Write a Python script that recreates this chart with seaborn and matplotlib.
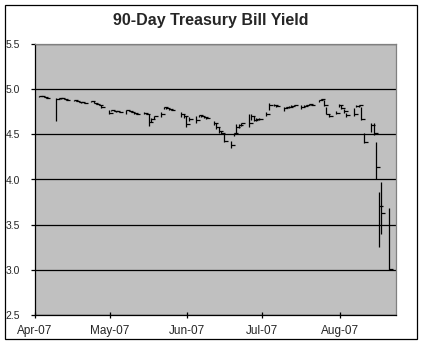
import pandas as pd
import seaborn as sns
import matplotlib
matplotlib.use('Agg')
import matplotlib.pyplot as plt
import matplotlib.dates as mdates
from matplotlib.patches import Rectangle

# Daily yields (high / low / close, percent)
dates = [
    '2007-04-02', '2007-04-03', '2007-04-04', '2007-04-05',
    '2007-04-09', '2007-04-10', '2007-04-11', '2007-04-12', '2007-04-13',
    '2007-04-16', '2007-04-17', '2007-04-18', '2007-04-19', '2007-04-20',
    '2007-04-23', '2007-04-24', '2007-04-25', '2007-04-26', '2007-04-27',
    '2007-04-30', '2007-05-01', '2007-05-02', '2007-05-03', '2007-05-04',
    '2007-05-07', '2007-05-08', '2007-05-09', '2007-05-10', '2007-05-11',
    '2007-05-14', '2007-05-15', '2007-05-16', '2007-05-17', '2007-05-18',
    '2007-05-21', '2007-05-22', '2007-05-23', '2007-05-24', '2007-05-25',
    '2007-05-29', '2007-05-30', '2007-05-31', '2007-06-01',
    '2007-06-04', '2007-06-05', '2007-06-06', '2007-06-07', '2007-06-08',
    '2007-06-11', '2007-06-12', '2007-06-13', '2007-06-14', '2007-06-15',
    '2007-06-18', '2007-06-19', '2007-06-20', '2007-06-21', '2007-06-22',
    '2007-06-25', '2007-06-26', '2007-06-27', '2007-06-28', '2007-06-29',
    '2007-07-02', '2007-07-03', '2007-07-05', '2007-07-06',
    '2007-07-09', '2007-07-10', '2007-07-11', '2007-07-12', '2007-07-13',
    '2007-07-16', '2007-07-17', '2007-07-18', '2007-07-19', '2007-07-20',
    '2007-07-23', '2007-07-24', '2007-07-25', '2007-07-26', '2007-07-27',
    '2007-07-30', '2007-07-31', '2007-08-01', '2007-08-02', '2007-08-03',
    '2007-08-06', '2007-08-07', '2007-08-08', '2007-08-09', '2007-08-10',
    '2007-08-13', '2007-08-14', '2007-08-15', '2007-08-16', '2007-08-17',
    '2007-08-20',
]

high = [
    4.92, 4.92, 4.92, 4.91,
    4.90, 4.90, 4.90, 4.90, 4.89,
    4.88, 4.88, 4.87, 4.86, 4.86,
    4.87, 4.87, 4.85, 4.84, 4.83,
    4.77, 4.77, 4.77, 4.76, 4.76,
    4.77, 4.77, 4.76, 4.75, 4.74,
    4.75, 4.74, 4.72, 4.68, 4.70,
    4.75, 4.80, 4.80, 4.79, 4.78,
    4.75, 4.73, 4.70, 4.69,
    4.70, 4.71, 4.71, 4.70, 4.69,
    4.65, 4.63, 4.58, 4.54, 4.50,
    4.43, 4.52, 4.61, 4.61, 4.63,
    4.73, 4.73, 4.70, 4.68, 4.68,
    4.75, 4.85, 4.84, 4.83,
    4.80, 4.80, 4.81, 4.82, 4.83,
    4.82, 4.82, 4.83, 4.84, 4.84,
    4.88, 4.89, 4.88, 4.80, 4.73,
    4.76, 4.84, 4.82, 4.78, 4.74,
    4.79, 4.83, 4.83, 4.80, 4.52,
    4.63, 4.62, 4.41, 3.86, 3.97,
    3.69,
]

low = [
    4.91, 4.92, 4.91, 4.90,
    4.65, 4.89, 4.89, 4.89, 4.88,
    4.87, 4.87, 4.86, 4.85, 4.85,
    4.86, 4.85, 4.84, 4.82, 4.79,
    4.72, 4.76, 4.76, 4.75, 4.75,
    4.73, 4.76, 4.75, 4.73, 4.72,
    4.73, 4.72, 4.59, 4.64, 4.67,
    4.69, 4.78, 4.78, 4.77, 4.77,
    4.69, 4.68, 4.58, 4.65,
    4.63, 4.69, 4.69, 4.68, 4.67,
    4.60, 4.56, 4.52, 4.50, 4.41,
    4.35, 4.48, 4.52, 4.57, 4.59,
    4.58, 4.66, 4.65, 4.65, 4.66,
    4.70, 4.77, 4.81, 4.80,
    4.76, 4.79, 4.79, 4.80, 4.81,
    4.78, 4.80, 4.81, 4.82, 4.82,
    4.86, 4.88, 4.81, 4.72, 4.69,
    4.72, 4.80, 4.78, 4.74, 4.69,
    4.70, 4.80, 4.80, 4.66, 4.40,
    4.53, 4.49, 4.00, 3.25, 3.40,
    3.00,
]

close = [
    4.92, 4.92, 4.91, 4.90,
    4.89, 4.90, 4.90, 4.89, 4.88,
    4.88, 4.87, 4.86, 4.86, 4.85,
    4.87, 4.85, 4.84, 4.82, 4.80,
    4.74, 4.77, 4.76, 4.76, 4.75,
    4.77, 4.76, 4.75, 4.74, 4.72,
    4.74, 4.72, 4.64, 4.67, 4.70,
    4.73, 4.80, 4.79, 4.78, 4.77,
    4.72, 4.70, 4.61, 4.67,
    4.66, 4.71, 4.70, 4.69, 4.68,
    4.63, 4.58, 4.54, 4.51, 4.43,
    4.38, 4.51, 4.58, 4.60, 4.62,
    4.62, 4.70, 4.66, 4.67, 4.67,
    4.73, 4.83, 4.83, 4.81,
    4.79, 4.80, 4.80, 4.81, 4.83,
    4.80, 4.81, 4.83, 4.84, 4.83,
    4.88, 4.89, 4.83, 4.73, 4.70,
    4.74, 4.83, 4.79, 4.76, 4.71,
    4.73, 4.81, 4.82, 4.67, 4.41,
    4.60, 4.51, 4.14, 3.71, 3.63,
    3.01,
]

month_ticks = ['2007-04-01', '2007-05-01', '2007-06-01', '2007-07-01', '2007-08-01']
y_ticks = [2.5, 3.0, 3.5, 4.0, 4.5, 5.0, 5.5]

df = pd.DataFrame({'Date': pd.to_datetime(dates), 'High': high, 'Low': low, 'Close': close})
# Excel puts each day's bar in the middle of its date slot
df['Pos'] = df['Date'] + pd.Timedelta(hours=12)

sns.set_style('white')
plt.rcParams['font.family'] = ['Liberation Sans', 'DejaVu Sans']

W, H = 423, 352
fig = plt.figure(figsize=(W / 100, H / 100), dpi=100)
ax = fig.add_axes([35 / W, 1 - 315 / H, (396 - 35) / W, (315 - 44) / H])
ax.set_facecolor('#c0c0c0')

# high-low bars + close ticks
ax.vlines(df['Pos'], df['Low'], df['High'], color='black', lw=0.9, zorder=3)
sns.scatterplot(data=df, x='Pos', y='Close', marker=1, s=7, color='black',
                linewidth=0.9, ax=ax, legend=False, zorder=4)

ax.set_ylim(2.5, 5.5)
ax.set_yticks(y_ticks)
ax.yaxis.set_major_formatter(plt.FormatStrFormatter('%.1f'))
ax.set_xlim(pd.Timestamp('2007-04-01'), pd.Timestamp('2007-08-23 10:00'))
ax.set_xticks(pd.to_datetime(month_ticks))
ax.xaxis.set_major_formatter(mdates.DateFormatter('%b-%y'))

ax.grid(axis='y', color='black', lw=0.9)
ax.grid(axis='x', visible=False)
ax.set_axisbelow(True)
ax.set_xlabel('')
ax.set_ylabel('')

for side in ['top', 'right']:
    ax.spines[side].set_color('#808080')
    ax.spines[side].set_linewidth(0.9)
for side in ['left', 'bottom']:
    ax.spines[side].set_color('black')
    ax.spines[side].set_linewidth(0.9)

ax.tick_params(axis='y', direction='out', length=3, width=0.9, color='black',
               pad=8, labelsize=7.5, left=True)
ax.tick_params(axis='x', direction='inout', length=4.5, width=0.9, color='black',
               pad=5, labelsize=8.5, bottom=True)

fig.text(211 / W, 1 - 21 / H, '90-Day Treasury Bill Yield', ha='center', va='center',
         fontsize=11.5, fontweight='bold')

# outer chart border
fig.add_artist(Rectangle((5 / W, 1 - 339 / H), (417 - 5) / W, (339 - 5) / H,
                         transform=fig.transFigure, fill=False, edgecolor='black', lw=0.9))

fig.savefig('out.png', dpi=100)
